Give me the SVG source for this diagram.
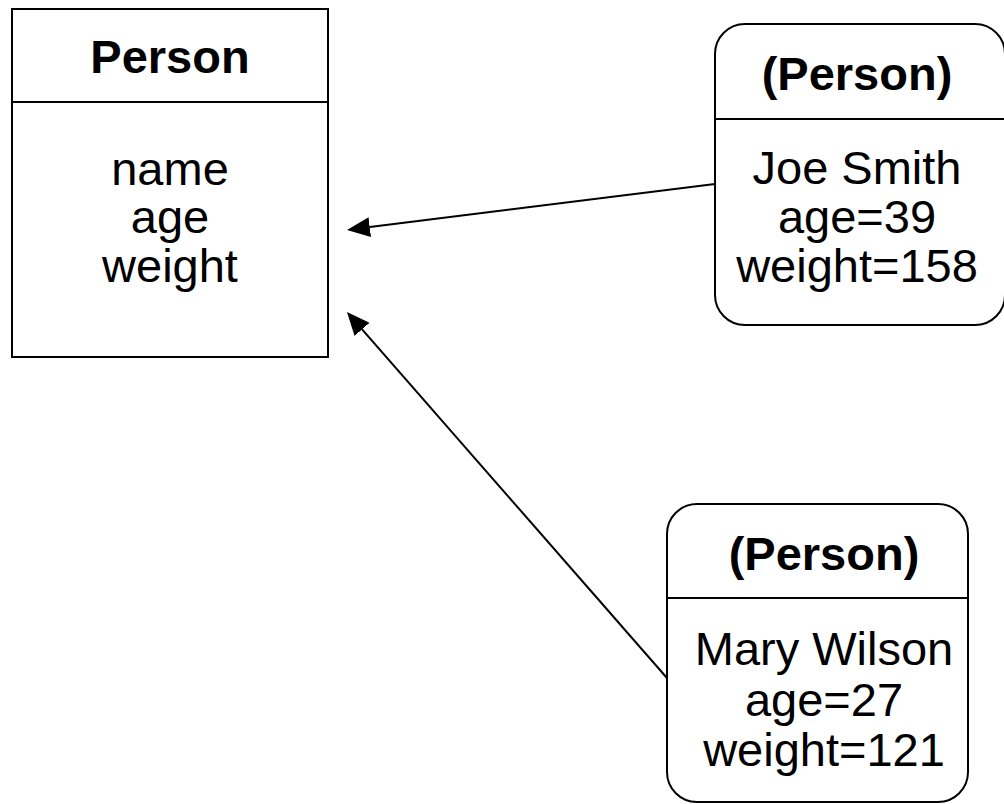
<svg xmlns="http://www.w3.org/2000/svg" width="1004" height="804" viewBox="0 0 1004 804">
  <style>
    .box { fill: #ffffff; stroke: #000000; stroke-width: 2; }
    .sep { stroke: #000000; stroke-width: 2; }
    .edge { fill: none; stroke: #000000; stroke-width: 2; }
    text { font-family: "Liberation Sans", Arial, sans-serif; font-size: 47px; fill: #000000; text-anchor: middle; }
    .title { font-weight: bold; }
  </style>
  <defs>
    <marker id="arrow" viewBox="0 0 24 20" refX="0" refY="10" markerWidth="24" markerHeight="20" markerUnits="userSpaceOnUse" orient="auto">
      <path d="M0,0 L23,10 L0,20 Z" fill="#000000"/>
    </marker>
  </defs>

  <rect width="1004" height="804" fill="#ffffff"/>

  <!-- class: Person -->
  <g id="class-person">
    <rect class="box" x="12" y="9" width="316" height="348"/>
    <line class="sep" x1="12" y1="102" x2="328" y2="102"/>
    <text class="title" x="170" y="73">Person</text>
    <text x="170" y="185">name</text>
    <text x="170" y="233">age</text>
    <text x="170" y="282">weight</text>
  </g>

  <!-- instance: Joe Smith -->
  <g id="instance-joe">
    <rect class="box" x="715" y="24" width="290" height="301" rx="30" ry="30"/>
    <line class="sep" x1="715" y1="119" x2="1005" y2="119"/>
    <text class="title" x="857" y="90">(Person)</text>
    <text x="857" y="184">Joe Smith</text>
    <text x="857" y="233">age=39</text>
    <text x="857" y="282">weight=158</text>
  </g>

  <!-- instance: Mary Wilson -->
  <g id="instance-mary">
    <rect class="box" x="667" y="504" width="301" height="298" rx="30" ry="30"/>
    <line class="sep" x1="667" y1="598" x2="968" y2="598"/>
    <text class="title" x="824" y="570">(Person)</text>
    <text x="824" y="665">Mary Wilson</text>
    <text x="824" y="716">age=27</text>
    <text x="824" y="766">weight=121</text>
  </g>

  <!-- instance-of connectors -->
  <g id="connectors">
    <path class="edge" d="M715,184 L369.8,227.1" marker-end="url(#arrow)"/>
    <path class="edge" d="M667,678 L362.1,329.3" marker-end="url(#arrow)"/>
  </g>
</svg>
